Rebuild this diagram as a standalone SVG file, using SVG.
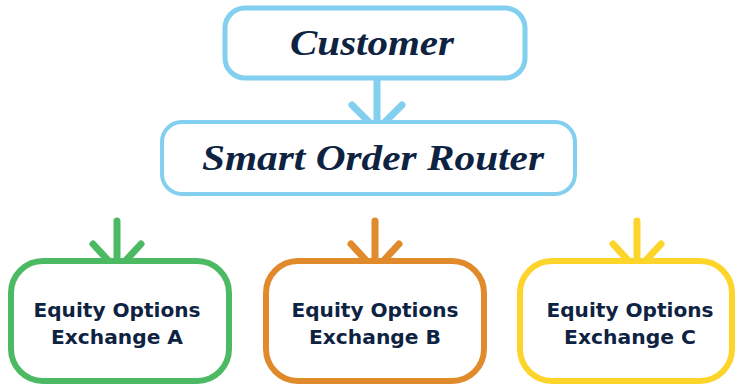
<svg xmlns="http://www.w3.org/2000/svg" width="736" height="385" viewBox="0 0 736 385">
<style>
.box{fill:#fff;}
.t1{font-family:"Liberation Serif","DejaVu Serif",serif;font-weight:bold;font-style:italic;font-size:36px;fill:#0e2342;text-anchor:middle;}
.t2{font-family:"DejaVu Sans","Liberation Sans",sans-serif;font-weight:bold;font-size:20px;fill:#0e2342;text-anchor:middle;}
.arr{fill:none;stroke-width:7;stroke-linecap:round;stroke-linejoin:round;}
</style>
<rect width="736" height="385" fill="#fff"/>
<g id="connectors">
<path class="arr" stroke="#82cfef" d="M377,80 V130 M352,105 L377,130 L402,105"/>
<path class="arr" stroke="#4cb963" d="M117,221 V271 M93,244 L117,270 L141,244"/>
<path class="arr" stroke="#e08a2c" d="M375,221 V271 M351,244 L375,270 L399,244"/>
<path class="arr" stroke="#fdd42a" d="M637,221 V271 M613,244 L637,270 L661,244"/>
</g>
<g id="customer">
<rect class="box" x="225" y="8" width="300" height="70" rx="20" stroke="#82cfef" stroke-width="5"/>
<text class="t1" x="372" y="55" textLength="164" lengthAdjust="spacingAndGlyphs">Customer</text>
</g>
<g id="sor">
<rect class="box" x="162" y="122" width="413" height="72" rx="20" stroke="#82cfef" stroke-width="4"/>
<text class="t1" x="373" y="170" textLength="342" lengthAdjust="spacingAndGlyphs">Smart Order Router</text>
</g>
<g id="exA">
<rect class="box" x="11" y="261" width="218" height="120" rx="32" stroke="#4cb963" stroke-width="6"/>
<text class="t2" x="117" y="317" textLength="167" lengthAdjust="spacingAndGlyphs">Equity Options</text>
<text class="t2" x="117" y="344" textLength="132" lengthAdjust="spacingAndGlyphs">Exchange A</text>
</g>
<g id="exB">
<rect class="box" x="266" y="261" width="218" height="120" rx="32" stroke="#e08a2c" stroke-width="6"/>
<text class="t2" x="375" y="317" textLength="167" lengthAdjust="spacingAndGlyphs">Equity Options</text>
<text class="t2" x="375" y="344" textLength="132" lengthAdjust="spacingAndGlyphs">Exchange B</text>
</g>
<g id="exC">
<rect class="box" x="520" y="261" width="212" height="120" rx="32" stroke="#fdd42a" stroke-width="6"/>
<text class="t2" x="630" y="317" textLength="167" lengthAdjust="spacingAndGlyphs">Equity Options</text>
<text class="t2" x="630" y="344" textLength="132" lengthAdjust="spacingAndGlyphs">Exchange C</text>
</g>
</svg>
